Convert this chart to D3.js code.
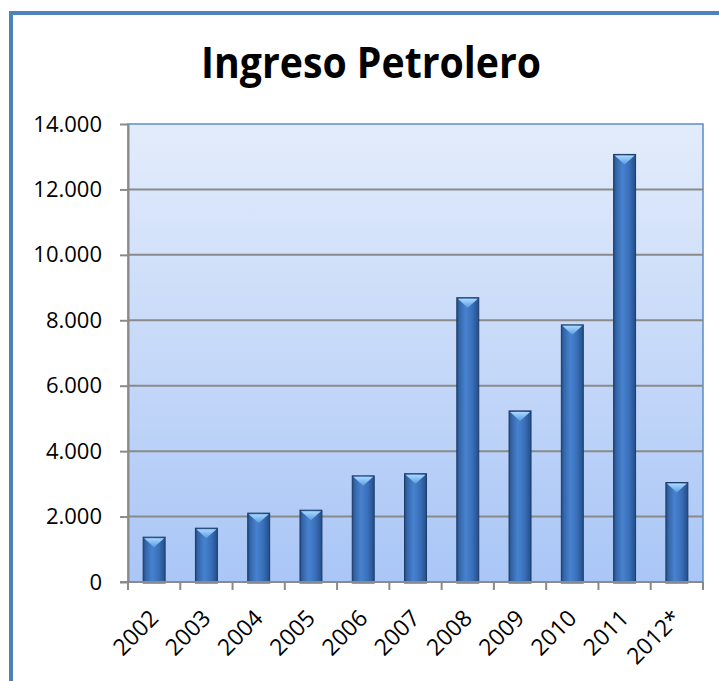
<!DOCTYPE html>
<html>
  <head>
    <meta charset="utf-8">
    <script src="https://cdnjs.cloudflare.com/ajax/libs/d3/7.8.5/d3.min.js"></script>
<style>
  body {
      margin: 0;
      background: #ffffff;
  }
  text {
      font-family: "Open Sans", "Liberation Sans", sans-serif;
      fill: #000000;
  }
  .gridLine {
      stroke: #8a8a8a;
      stroke-width: 2;
  }
</style>
  </head>
  <body>
    <div id="vis"></div>

    <script type="text/javascript">

        var years = ["2002", "2003", "2004", "2005", "2006", "2007", "2008", "2009", "2010", "2011", "2012*"];
        var ingreso = [1370, 1645, 2105, 2195, 3245, 3310, 8690, 5230, 7860, 13070, 3040];
        var yTicks = [0, 2000, 4000, 6000, 8000, 10000, 12000, 14000];
        var title = "Ingreso Petrolero";

        var w = 719;
        var h = 681;
        var plot = {x0: 128, x1: 703, y0: 124, y1: 582};

        var svg = d3.select("#vis")
            .append("svg")
            .attr("width", w)
            .attr("height", h)
            .attr("viewBox", [0, 0, w, h]);

        var defs = svg.append("defs");

        var bg = defs.append("linearGradient")
            .attr("id", "plotBg")
            .attr("x1", 0).attr("y1", 0).attr("x2", 0).attr("y2", 1);
        bg.append("stop").attr("offset", "0%").attr("stop-color", "#e3ecfb");
        bg.append("stop").attr("offset", "100%").attr("stop-color", "#a9c6f6");

        var barGrad = defs.append("linearGradient")
            .attr("id", "barGrad")
            .attr("x1", 0).attr("y1", 0).attr("x2", 1).attr("y2", 0);
        [["0%", "#234d85"], ["12%", "#3466aa"], ["40%", "#4782cf"], ["70%", "#3a70ba"], ["100%", "#244e88"]]
            .forEach(s => barGrad.append("stop").attr("offset", s[0]).attr("stop-color", s[1]));

        var capGrad = defs.append("linearGradient")
            .attr("id", "capGrad")
            .attr("x1", 0).attr("y1", 0).attr("x2", 0).attr("y2", 1);
        capGrad.append("stop").attr("offset", "0%").attr("stop-color", "#a9d9fd");
        capGrad.append("stop").attr("offset", "100%").attr("stop-color", "#5b9be3");

        // outer frame, only top and left edges fall inside the picture
        svg.append("rect")
            .attr("x", 11)
            .attr("y", 13)
            .attr("width", 760)
            .attr("height", 720)
            .attr("fill", "none")
            .attr("stroke", "#4f81bd")
            .attr("stroke-width", 4);

        svg.append("text")
            .attr("x", 371)
            .attr("y", 78)
            .attr("text-anchor", "middle")
            .attr("font-size", 43)
            .attr("font-weight", 700)
            .attr("textLength", 340)
            .attr("lengthAdjust", "spacingAndGlyphs")
            .text(title);

        var xScale = d3.scaleBand()
            .domain(years)
            .range([plot.x0, plot.x1])
            .paddingInner(0.58)
            .paddingOuter(0.29);
        var yScale = d3.scaleLinear()
            .domain([0, 14000])
            .range([plot.y1, plot.y0]);

        var fmt = d3.formatLocale({decimal: ",", thousands: ".", grouping: [3], currency: ["", ""]}).format(",");

        svg.append("rect")
            .attr("x", plot.x0)
            .attr("y", plot.y0)
            .attr("width", plot.x1 - plot.x0)
            .attr("height", plot.y1 - plot.y0)
            .attr("fill", "url(#plotBg)")
            .attr("stroke", "#5b8cc8")
            .attr("stroke-width", 1.5);

        svg.append("g")
            .attr("id", "grid")
            .selectAll("line")
            .data(yTicks.filter(d => d > 0 && d < 14000))
            .join("line")
            .classed("gridLine", true)
            .attr("x1", plot.x0)
            .attr("x2", plot.x1)
            .attr("y1", d => yScale(d))
            .attr("y2", d => yScale(d));

        var yAxis = svg.append("g")
            .attr("transform", `translate(${plot.x0},0)`)
            .call(d3.axisLeft(yScale).tickValues(yTicks).tickFormat(fmt).tickSize(8).tickPadding(18).tickSizeOuter(0));
        yAxis.selectAll("path, line").attr("stroke", "#8a8a8a").attr("stroke-width", 2);
        yAxis.selectAll("text").attr("font-size", 22).attr("font-family", null).attr("fill", "#000");

        // bars with a bevelled cap
        var bars = svg.append("g")
            .attr("id", "bars")
            .selectAll("g")
            .data(years.map((d, i) => ({year: d, value: ingreso[i]})))
            .join("g");
        bars.append("rect")
            .attr("x", d => xScale(d.year))
            .attr("y", d => yScale(d.value))
            .attr("width", xScale.bandwidth())
            .attr("height", d => yScale(0) - yScale(d.value) + 1)
            .attr("fill", "url(#barGrad)")
            .attr("stroke", "#1b3a66")
            .attr("stroke-width", 1);
        bars.append("path")
            .attr("d", d => {
                var x = xScale(d.year) + 1, bw = xScale.bandwidth() - 2, t = yScale(d.value) + 1;
                return `M${x},${t}L${x + bw},${t}L${x + bw / 2},${t + bw * 0.45}Z`;
            })
            .attr("fill", "url(#capGrad)");

        // x axis: ticks sit on band edges
        var edges = years.map(d => xScale(d) - xScale.step() * xScale.paddingInner() / 2).concat([plot.x1]);
        var xAxis = svg.append("g").attr("id", "xAxis");
        xAxis.append("line")
            .attr("x1", plot.x0 - 8)
            .attr("x2", plot.x1)
            .attr("y1", plot.y1)
            .attr("y2", plot.y1)
            .attr("stroke", "#8a8a8a")
            .attr("stroke-width", 2);
        xAxis.selectAll("line.tick")
            .data(edges)
            .join("line")
            .attr("class", "tick")
            .attr("x1", d => d)
            .attr("x2", d => d)
            .attr("y1", plot.y1)
            .attr("y2", plot.y1 + 8)
            .attr("stroke", "#8a8a8a")
            .attr("stroke-width", 2);
        xAxis.selectAll("text")
            .data(years)
            .join("text")
            .attr("transform", d => `translate(${xScale(d) + xScale.bandwidth() / 2},614) rotate(-45)`)
            .attr("text-anchor", "end")
            .attr("dy", "0.35em")
            .attr("font-size", 23)
            .text(d => d);

    </script>
  </body>
</html>
